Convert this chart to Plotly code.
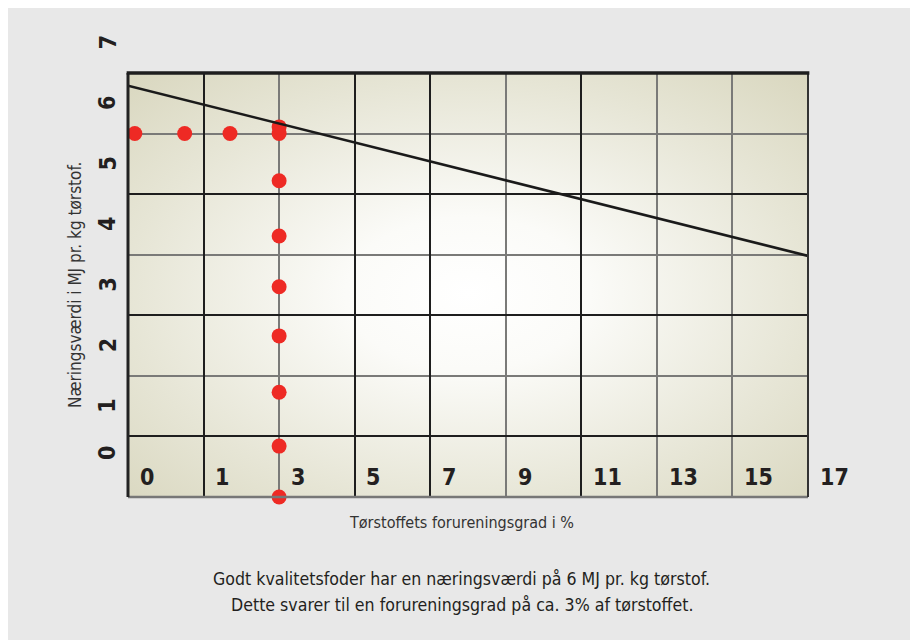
import base64
import plotly.graph_objects as go

# ---- data (grid units: x = column index 0..9, y = row index 0..7) ----
dot_x = [0.09, 0.75, 1.35, 2.0, 2.0, 2.0, 2.0, 2.0, 2.0, 2.0, 2.0, 2.0]
dot_y = [6.0, 6.0, 6.0, 6.0, 6.11, 5.22, 4.31, 3.47, 2.66, 1.73, 0.84, 0.0]

line_x = [0, 9]
line_y = [6.79, 3.98]

x_tick_pos = [0, 1, 2, 3, 4, 5, 6, 7, 8, 9]
x_tick_text = ["0", "1", "3", "5", "7", "9", "11", "13", "15", "17"]
y_tick_pos = [0.72, 1.5, 2.5, 3.5, 4.5, 5.5, 6.5, 7.5]
y_tick_text = ["0", "1", "2", "3", "4", "5", "6", "7"]

x_title = "Tørstoffets forureningsgrad i %"
y_title = "Næringsværdi i MJ pr. kg tørstof."
caption_1 = "Godt kvalitetsfoder har en næringsværdi på 6 MJ pr. kg tørstof."
caption_2 = "Dette svarer til en forureningsgrad på ca. 3% af tørstoffet."

X_MAX, Y_MAX = 9, 7

FONT = "Liberation Sans Narrow, DejaVu Sans Condensed, Arial Narrow, sans-serif"
TXT = "#231f20"

# radial gradient background for plot area
svg = (
    "<svg xmlns='http://www.w3.org/2000/svg' width='100' height='100' viewBox='0 0 100 100' "
    "preserveAspectRatio='none'><defs><radialGradient id='g' cx='0.5' cy='0.52' r='0.72'>"
    "<stop offset='0' stop-color='#ffffff'/>"
    "<stop offset='0.25' stop-color='#fbfbf8'/>"
    "<stop offset='0.7' stop-color='#e6e5d5'/>"
    "<stop offset='1' stop-color='#d9d7bf'/>"
    "</radialGradient></defs><rect width='100' height='100' fill='url(#g)'/></svg>"
)
svg_uri = "data:image/svg+xml;base64," + base64.b64encode(svg.encode()).decode()

fig = go.Figure()

fig.add_trace(go.Scatter(
    x=dot_x, y=dot_y, mode="markers",
    marker=dict(size=15, color="#ee2a24", line=dict(width=0)),
    cliponaxis=False, hoverinfo="skip", showlegend=False,
))
fig.add_trace(go.Scatter(
    x=line_x, y=line_y, mode="lines",
    line=dict(color="#1a1a1a", width=2.6),
    cliponaxis=False, hoverinfo="skip", showlegend=False,
))

annotations = []
for p, t in zip(x_tick_pos, x_tick_text):
    annotations.append(dict(
        x=(p + 0.13) / X_MAX, y=0.33 / Y_MAX, xref="paper", yref="paper", text=t,
        showarrow=False, xanchor="left", yanchor="middle",
        font=dict(family=FONT, size=23, color=TXT, weight="bold"),
    ))
for p, t in zip(y_tick_pos, y_tick_text):
    annotations.append(dict(
        x=-0.03, y=p / Y_MAX, xref="paper", yref="paper", text=t, showarrow=False,
        xanchor="center", yanchor="middle", textangle=-90,
        font=dict(family=FONT, size=23, color=TXT, weight="bold"),
    ))
annotations += [
    dict(x=0.491, y=-0.059, xref="paper", yref="paper", text=x_title, showarrow=False,
         xanchor="center", yanchor="middle", font=dict(family=FONT, size=16, color="#333")),
    dict(x=-0.078, y=0.5, xref="paper", yref="paper", text=y_title, showarrow=False,
         xanchor="center", yanchor="middle", textangle=-90,
         font=dict(family=FONT, size=17, color="#333")),
    dict(x=0.491, y=-0.193, xref="paper", yref="paper", text=caption_1, showarrow=False,
         xanchor="center", yanchor="middle", font=dict(family=FONT, size=17.6, color=TXT)),
    dict(x=0.491, y=-0.255, xref="paper", yref="paper", text=caption_2, showarrow=False,
         xanchor="center", yanchor="middle", font=dict(family=FONT, size=17.6, color=TXT)),
]

shapes = [
    dict(type="line", xref="paper", yref="paper", x0=0, x1=1, y0=0, y1=0,
         line=dict(color="#777", width=2.5)),
    dict(type="line", xref="paper", yref="paper", x0=0, x1=0, y0=0, y1=1,
         line=dict(color="#222", width=3)),
    dict(type="line", xref="paper", yref="paper", x0=1, x1=1, y0=0, y1=1,
         line=dict(color="#333", width=2)),
    dict(type="line", xref="paper", yref="paper", x0=-0.002, x1=1.002, y0=1, y1=1,
         line=dict(color="#1e1e1e", width=3.5)),
]

fig.update_layout(
    width=918, height=640,
    margin=dict(l=120, r=118, t=65, b=151),
    paper_bgcolor="#e8e8e8",
    plot_bgcolor="#f4f4ee",
    showlegend=False,
    annotations=annotations,
    shapes=shapes,
    images=[dict(source=svg_uri, xref="x", yref="y", x=0, y=Y_MAX, sizex=X_MAX, sizey=Y_MAX,
                 sizing="stretch", xanchor="left", yanchor="top", layer="below")],
    xaxis=dict(
        range=[0, X_MAX], showticklabels=False, zeroline=False, showline=False, ticks="",
        tickvals=[1, 3, 4, 6], showgrid=True, gridcolor="#1e1e1e", gridwidth=1.6,
        minor=dict(tickvals=[2, 5, 7, 8], showgrid=True, gridcolor="#7a7a78", gridwidth=2),
        fixedrange=True,
    ),
    yaxis=dict(
        range=[0, Y_MAX], showticklabels=False, zeroline=False, showline=False, ticks="",
        tickvals=[1, 3, 5], showgrid=True, gridcolor="#1e1e1e", gridwidth=1.6,
        minor=dict(tickvals=[2, 4, 6], showgrid=True, gridcolor="#7a7a78", gridwidth=2),
        fixedrange=True,
    ),
)

fig.write_html("out.html")
